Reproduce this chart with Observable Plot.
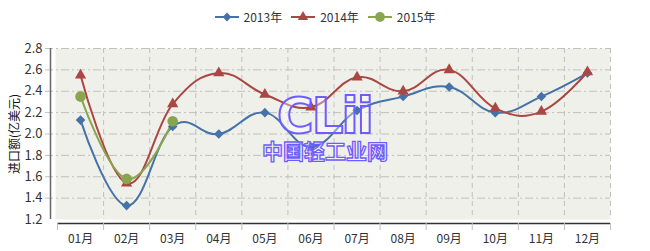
<!DOCTYPE html>
<html><head><meta charset="utf-8">
<script src="https://cdn.jsdelivr.net/npm/d3@7"></script>
<script src="https://cdn.jsdelivr.net/npm/@observablehq/plot@0.6"></script>
<style>
body{margin:0;background:#fff;font-family:"Noto Sans CJK SC","DejaVu Sans",sans-serif;}
#wrap{position:relative;width:650px;height:251px;overflow:hidden;}
#legend{position:absolute;top:8px;left:0;width:650px;display:flex;justify-content:center;gap:9px;font-size:12px;color:#333;}
.item{display:flex;align-items:center;gap:5px;}
#wm1{position:absolute;left:277px;top:97px;line-height:38px;height:38px;font:bold 50px/38px "DejaVu Sans",sans-serif;color:rgba(255,255,255,0.35);-webkit-text-stroke:2px #6f5cff;letter-spacing:-2px;}
#wm2{position:absolute;left:262px;top:139px;height:22px;font:bold 21px/22px "Noto Sans CJK SC",sans-serif;color:rgba(255,255,255,0.35);-webkit-text-stroke:1.3px #6f5cff;letter-spacing:0px;}
</style></head><body>
<div id="wrap"><div id="chart"></div><div id="legend"></div><div id="wm1">CLii</div><div id="wm2">中国轻工业网</div></div>
<script>
const months = ["01月","02月","03月","04月","05月","06月","07月","08月","09月","10月","11月","12月"];
const seriesNames = ["2013年","2014年","2015年"];
const v2013 = [2.13,1.33,2.07,2.00,2.20,1.88,2.22,2.35,2.44,2.20,2.35,2.57];
const v2014 = [2.55,1.54,2.28,2.57,2.37,2.25,2.53,2.40,2.60,2.24,2.21,2.58];
const v2015 = [2.35,1.58,2.12];
const yTicks = [1.2,1.4,1.6,1.8,2.0,2.2,2.4,2.6,2.8];
const colors = ["#4572A7","#AA4643","#89A54E"];
const symbols = ["diamond2","triangle","circle"];
const sizes = [4.3,4.2,5.3];

const data = [];
[v2013,v2014,v2015].forEach((arr,s)=>arr.forEach((v,i)=>data.push({series:seriesNames[s],m:i+1,v})));
const bounds = d3.range(0.5,13,1);

const chart = Plot.plot({
  width:650, height:251,
  marginTop:48, marginBottom:32, marginLeft:57, marginRight:40,
  style:{fontFamily:'"Noto Sans CJK SC","DejaVu Sans",sans-serif', fontSize:"12px", color:"#333", background:"transparent"},
  x:{domain:[0.5,12.5], axis:null},
  y:{domain:[1.2,2.8], axis:null},
  marks:[
    Plot.frame({fill:"#F0F0EA", stroke:null, insetLeft:-2}),
    Plot.ruleY(yTicks.slice(1), {stroke:"#C0C0C0", strokeDasharray:"8,3,2,3", insetLeft:-12}),
    Plot.ruleX(bounds.slice(1), {stroke:"#C0C0C0", strokeDasharray:"5,4"}),
    Plot.ruleX([0.5], {y1:1.2, y2:2.8, dx:-7, stroke:"#666", strokeWidth:1.5}),
    Plot.ruleY([1.2], {dy:4, stroke:"#333", strokeWidth:1.5}),
    Plot.ruleX(bounds, {y1:1.2, y2:1.2, insetBottom:-7, dy:4, stroke:"#C0C0C0"}),
    Plot.text(yTicks, {x:0.5, y:d=>d, text:d=>d.toFixed(1), textAnchor:"end", dx:-15, fontSize:13, fill:"#333"}),
    Plot.text(months, {x:(d,i)=>i+1, y:1.2, text:d=>d, dy:20, fontSize:12, fill:"#333"}),
    Plot.text(["进口额(亿美元)"], {x:0.5, y:2.0, rotate:-90, dx:-42, fontSize:12, fill:"#111"}),
    ...seriesNames.map((s,k)=>Plot.line(data.filter(d=>d.series===s), {x:"m", y:"v", stroke:colors[k], strokeWidth:2, curve:"cardinal", tension:-0.2})),
    ...seriesNames.map((s,k)=>Plot.dot(data.filter(d=>d.series===s), {x:"m", y:"v", fill:colors[k], stroke:null, symbol:symbols[k], r:sizes[k]}))
  ]
});
document.getElementById("chart").appendChild(chart);

const leg = document.getElementById("legend");
seriesNames.forEach((s,k)=>{
  const it = document.createElement("div"); it.className="item";
  const sym = d3.create("svg").attr("width",24).attr("height",14);
  sym.append("line").attr("x1",0).attr("x2",24).attr("y1",7).attr("y2",7).attr("stroke",colors[k]).attr("stroke-width",2);
  const st = {diamond2:d3.symbolDiamond2, triangle:d3.symbolTriangle, circle:d3.symbolCircle}[symbols[k]];
  sym.append("path").attr("transform","translate(12,7)").attr("d",d3.symbol(st, Math.PI*sizes[k]*sizes[k]*0.85)()).attr("fill",colors[k]);
  it.appendChild(sym.node());
  const t = document.createElement("span"); t.textContent=s; it.appendChild(t);
  leg.appendChild(it);
});
</script></body></html>
